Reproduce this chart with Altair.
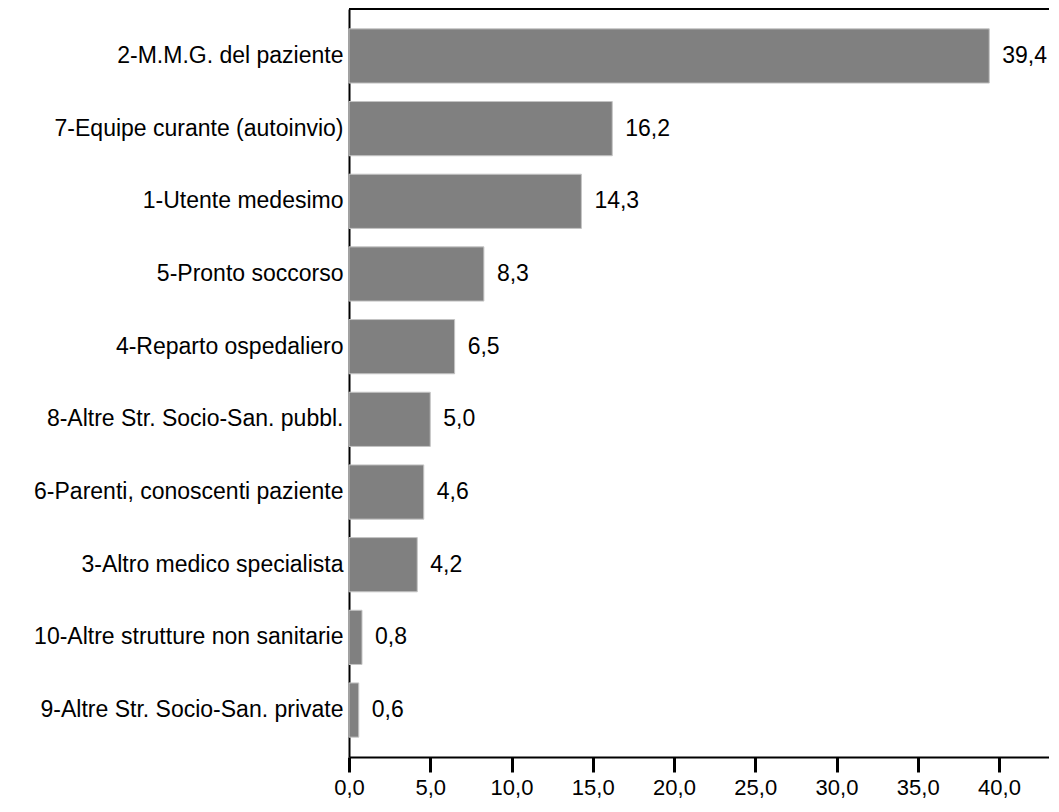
import altair as alt
import pandas as pd

categories = [
    "2-M.M.G. del paziente",
    "7-Equipe curante (autoinvio)",
    "1-Utente medesimo",
    "5-Pronto soccorso",
    "4-Reparto ospedaliero",
    "8-Altre Str. Socio-San. pubbl.",
    "6-Parenti, conoscenti paziente",
    "3-Altro medico specialista",
    "10-Altre strutture non sanitarie",
    "9-Altre Str. Socio-San. private",
]
values = [39.4, 16.2, 14.3, 8.3, 6.5, 5.0, 4.6, 4.2, 0.8, 0.6]
x_ticks = [0, 5, 10, 15, 20, 25, 30, 35, 40]

df = pd.DataFrame({"cat": categories, "val": values})

W, H = 700, 748
FONT = "Liberation Sans"

y_enc = alt.Y(
    "cat:N",
    sort=categories,
    scale=alt.Scale(paddingInner=0.254, paddingOuter=0.273),
    axis=alt.Axis(
        title=None,
        ticks=False,
        domain=True,
        domainColor="#000000",
        domainWidth=2,
        labelFont=FONT,
        labelFontSize=23,
        labelColor="#000000",
        labelPadding=6,
        labelLimit=400,
    ),
)
x_scale = alt.Scale(domain=[0, W / 16.25], nice=False, zero=True)

bars = alt.Chart(df).mark_bar(color="#808080", stroke="#c4c4c4", strokeWidth=1).encode(
    y=y_enc,
    x=alt.X(
        "val:Q",
        scale=x_scale,
        axis=alt.Axis(
            title=None,
            values=x_ticks,
            grid=False,
            domainColor="#000000",
            domainWidth=2,
            tickColor="#000000",
            tickWidth=3,
            tickSize=15,
            labelFont=FONT,
            labelFontSize=22,
            labelColor="#000000",
            labelPadding=5,
            labelFlush=False,
            labelExpr="replace(format(datum.value, '.1f'), '.', ',')",
        ),
    ),
)

labels = alt.Chart(df).transform_calculate(
    lab="replace(format(datum.val, '.1f'), '.', ',')"
).mark_text(align="left", baseline="middle", dx=13, font=FONT, fontSize=23, color="#000000").encode(
    y=alt.Y("cat:N", sort=categories),
    x=alt.X("val:Q", scale=x_scale),
    text="lab:N",
)

top_border = alt.Chart(df).mark_rule(color="#000000", strokeWidth=2).encode(
    x=alt.value(0), x2=alt.value(W), y=alt.value(0)
)

chart = (
    alt.layer(bars, labels, top_border)
    .properties(
        width=W,
        height=H,
        autosize=alt.AutoSizeParams(type="none"),
        padding={"left": 341, "top": 1, "right": 0, "bottom": 42},
    )
    .configure_view(stroke=None)
    .configure(background="#ffffff")
)

chart.save("out.html", embed_options={"renderer": "svg", "actions": False})
